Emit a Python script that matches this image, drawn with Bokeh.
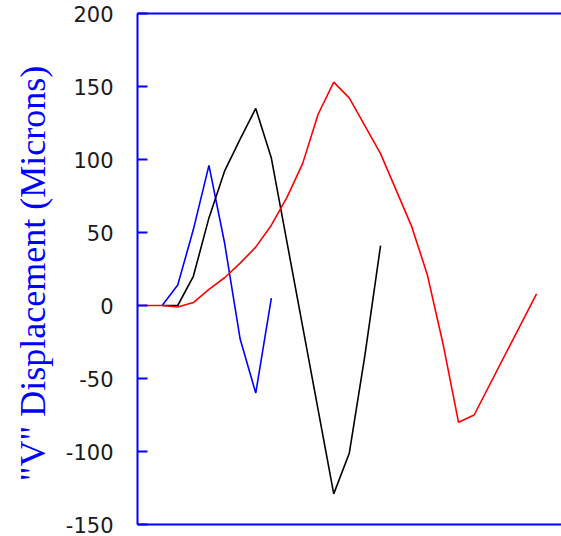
from bokeh.plotting import figure
from bokeh.models import Range1d, LinearAxis, FixedTicker
from bokeh.embed import file_html
from bokeh.resources import INLINE

# Data (x = sample index, y = displacement in microns)
t_blue = [1, 2, 3, 4, 5, 6, 7, 8]
v_blue = [0, 14, 52, 96, 43, -23, -60, 5]

t_black = [1, 2, 3, 4, 5, 6, 7, 8, 12, 13, 14, 15]
v_black = [0, 0, 20, 60, 92, 114, 135, 101, -129, -101, -34, 41]

t_red = [-1, 0, 1, 2, 3, 4, 5, 6, 7, 8, 9, 10, 11, 12, 13, 14, 15, 16, 17, 18, 19, 20, 21, 25]
v_red = [0, 0, 0, -1, 2, 11, 19, 29, 40, 55, 74, 97, 131, 153, 142, 123, 104, 79, 54, 21, -26, -80, -75, 8]

y_ticks = [-150, -100, -50, 0, 50, 100, 150, 200]
y_label = '"V" Displacement  (Microns)'

AXIS_BLUE = "#0000ff"

p = figure(width=561, height=536, output_backend="svg", toolbar_location=None,
           x_range=Range1d(-0.58, 26.6), y_range=Range1d(-150, 200),
           min_border_left=137, min_border_right=0, min_border_top=13, min_border_bottom=12,
           x_axis_location=None)
p.outline_line_color = None
p.background_fill_color = "white"
p.border_fill_color = "white"
p.grid.visible = False

# left axis
ya = p.yaxis[0]
ya.ticker = FixedTicker(ticks=y_ticks)
ya.major_label_overrides = {v: str(v) for v in y_ticks}
ya.minor_tick_line_color = None
ya.major_tick_in = 10
ya.major_tick_out = 0
ya.major_tick_line_color = AXIS_BLUE
ya.major_tick_line_width = 2
ya.axis_line_color = AXIS_BLUE
ya.axis_line_width = 2
ya.major_label_standoff = 24
ya.major_label_text_font = "DejaVu Sans"
ya.major_label_text_font_size = "21px"
ya.major_label_text_color = "#1a1a1a"
ya.axis_label = y_label
ya.axis_label_text_font = "Liberation Serif"
ya.axis_label_text_font_style = "normal"
ya.axis_label_text_font_size = "36px"
ya.axis_label_text_color = AXIS_BLUE
ya.axis_label_standoff = 10

# top and bottom frame lines as tick-less axes
for loc in ("above", "below"):
    ax = LinearAxis(ticker=FixedTicker(ticks=[]))
    ax.axis_line_color = AXIS_BLUE
    ax.axis_line_width = 2
    ax.major_tick_line_color = None
    ax.minor_tick_line_color = None
    ax.major_label_text_font_size = "0px"
    ax.major_label_standoff = 0
    ax.major_tick_out = 0
    ax.major_tick_in = 0
    p.add_layout(ax, loc)

p.line(t_blue, v_blue, line_color="#0000ff", line_width=1.6)
p.line(t_black, v_black, line_color="#000000", line_width=1.6)
p.line(t_red, v_red, line_color="#ff0000", line_width=1.6)

open("out.html", "w").write(file_html(p, INLINE))
